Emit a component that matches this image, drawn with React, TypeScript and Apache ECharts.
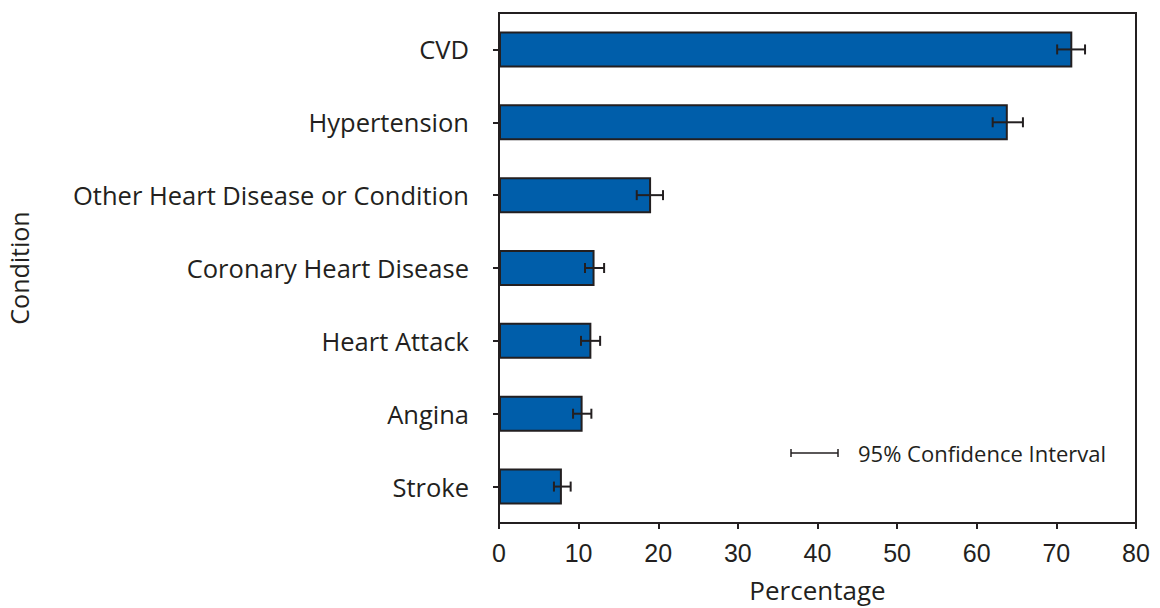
import React, { useEffect, useRef } from "react";
import * as echarts from "echarts";

const categories = [
  "CVD",
  "Hypertension",
  "Other Heart Disease or Condition",
  "Coronary Heart Disease",
  "Heart Attack",
  "Angina",
  "Stroke",
];
const percentages = [72.0, 63.9, 19.1, 12.0, 11.6, 10.5, 7.9];
const ciLow = [70.1, 62.0, 17.3, 10.8, 10.3, 9.3, 6.9];
const ciHigh = [73.6, 65.8, 20.6, 13.2, 12.7, 11.6, 9.0];
const xTicks = [0, 80, 10];

const INK = "#231f20";
const BLUE = "#005eaa";
const FONT = "Open Sans";
const NUMFONT = "Liberation Sans";

export default function App() {
  const ref = useRef<HTMLDivElement>(null);
  useEffect(() => {
    if (!ref.current) return;
    const chart = echarts.init(ref.current, null, { renderer: "svg" });
    const errData = categories.map((_, i) => [i, ciLow[i], ciHigh[i]]);
    chart.setOption({
      animation: false,
      backgroundColor: "#ffffff",
      textStyle: { fontFamily: FONT, color: INK },
      grid: {
        left: 499,
        right: 24,
        top: 13,
        bottom: 85,
        show: true,
        borderColor: INK,
        borderWidth: 2,
        backgroundColor: "transparent",
        outerBoundsMode: "none",
        containLabel: false,
      },
      xAxis: {
        type: "value",
        min: xTicks[0],
        max: xTicks[1],
        interval: xTicks[2],
        name: "Percentage",
        nameLocation: "middle",
        nameGap: 54,
        nameTextStyle: { fontSize: 26, color: INK, fontFamily: FONT },
        axisLine: { show: true, lineStyle: { color: INK, width: 2 } },
        axisTick: { show: true, length: 6, lineStyle: { color: INK, width: 2 } },
        axisLabel: { fontSize: 25, color: INK, margin: 17, fontFamily: NUMFONT },
        splitLine: { show: false },
      },
      yAxis: {
        type: "category",
        data: categories,
        inverse: true,
        name: "Condition",
        nameLocation: "middle",
        nameGap: 468,
        nameRotate: 90,
        nameTextStyle: { fontSize: 25, color: INK, fontFamily: FONT },
        axisLine: { show: true, lineStyle: { color: INK, width: 2 } },
        axisTick: { show: true, alignWithLabel: true, length: 6, lineStyle: { color: INK, width: 2 } },
        axisLabel: { fontSize: 25.5, color: INK, margin: 30, fontFamily: FONT },
      },
      series: [
        {
          type: "bar",
          data: percentages,
          barWidth: 36,
          itemStyle: { color: BLUE, borderColor: INK, borderWidth: 2 },
          z: 2,
        },
        {
          type: "custom",
          data: errData,
          z: 3,
          renderItem: (params: any, api: any) => {
            const idx = api.value(0);
            const lo = api.coord([api.value(1), idx]);
            const hi = api.coord([api.value(2), idx]);
            const cap = 5;
            const style = { stroke: INK, lineWidth: 2 };
            return {
              type: "group",
              children: [
                { type: "line", shape: { x1: lo[0], y1: lo[1], x2: hi[0], y2: hi[1] }, style },
                { type: "line", shape: { x1: lo[0], y1: lo[1] - cap, x2: lo[0], y2: lo[1] + cap }, style },
                { type: "line", shape: { x1: hi[0], y1: hi[1] - cap, x2: hi[0], y2: hi[1] + cap }, style },
              ],
            };
          },
        },
      ],
      graphic: [
        { type: "line", shape: { x1: 791, y1: 453, x2: 838, y2: 453 }, style: { stroke: INK, lineWidth: 1.5 } },
        { type: "line", shape: { x1: 791, y1: 449, x2: 791, y2: 457 }, style: { stroke: INK, lineWidth: 1.5 } },
        { type: "line", shape: { x1: 838, y1: 449, x2: 838, y2: 457 }, style: { stroke: INK, lineWidth: 1.5 } },
        {
          type: "text",
          x: 858,
          y: 453,
          style: {
            text: "95% Confidence Interval",
            fontSize: 22,
            fontFamily: FONT,
            fill: INK,
            verticalAlign: "middle",
          },
        },
      ],
    });
    return () => chart.dispose();
  }, []);
  return (
    <div
      ref={ref}
      style={{ position: "absolute", left: 0, top: 0, width: 1160, height: 608 }}
    />
  );
}
